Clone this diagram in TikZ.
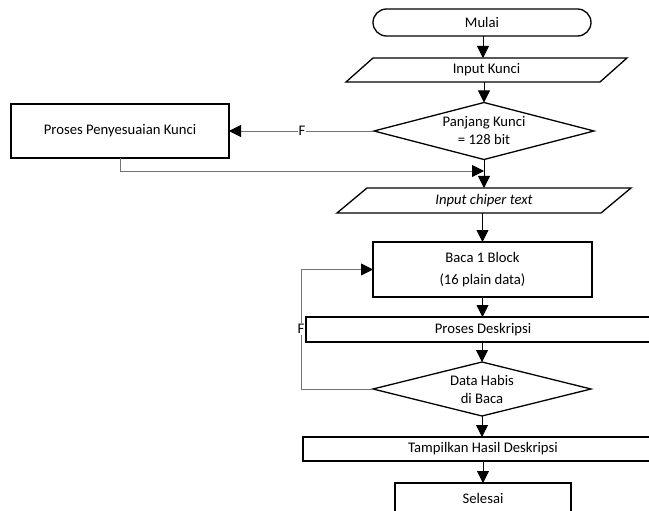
\documentclass[tikz,border=0pt]{standalone}
\usepackage{fontspec}
\setmainfont{Carlito}
\usetikzlibrary{shapes.geometric,arrows.meta,calc}
\begin{document}
\begin{tikzpicture}[x=1pt,y=-1pt,
  every node/.style={font=\fontsize{14.67}{18}\selectfont, inner sep=0pt, outer sep=0pt},
  shp/.style={draw=black, line width=1.3pt, fill=white, align=center},
  boxw/.style 2 args={shp, rectangle, minimum width=#1, minimum height=#2},
  txt/.style={align=center},
  dia/.style 2 args={shp, diamond, minimum width=#1, minimum height=#2},
  arr/.style={draw=black, line width=0.8pt, -{Triangle[length=12pt,width=12pt]}},
  garr/.style={draw=black!55, line width=0.8pt, -{Triangle[length=12pt,width=12pt,black]}},
  flab/.style={fill=white, inner sep=1pt}
]
\useasboundingbox (0,0) rectangle (649,511);
\clip (0,0) rectangle (649,511);

% shapes
\node[shp, rectangle, rounded corners=13.5pt, minimum width=218, minimum height=27] (m) at (482,22.5) {Mulai};

\node[minimum width=254, minimum height=24] (k) at (486.5,70) {};
\draw[shp] ($(k.south west)+(-13.5,0)$) -- ($(k.north west)+(13.5,0)$) -- ($(k.north east)+(13.5,0)$) -- ($(k.south east)+(-13.5,0)$) -- cycle;
\node[txt] (kt) at (k) {Input Kunci};

\node[dia={220}{57}] (d1) at (484,131) {};
\node[txt] (d1t) at (d1) {Panjang Kunci\\= 128 bit};

\node[boxw={218}{54}] (pk) at (120,131) {Proses Penyesuaian Kunci};

\node[minimum width=264, minimum height=25] (ci) at (484,200.5) {};
\draw[shp] ($(ci.south west)+(-15,0)$) -- ($(ci.north west)+(15,0)$) -- ($(ci.north east)+(15,0)$) -- ($(ci.south east)+(-15,0)$) -- cycle;
\node[txt] (cit) at (ci) {\itshape Input chiper text};

\node[boxw={219}{55}, font=\fontsize{14.67}{22}\selectfont] (bc) at (482.5,269.5) {Baca 1 Block\\(16 plain data)};
\node[boxw={354}{25}] (pd) at (483,329.5) {Proses Deskripsi};

\node[dia={218}{54}] (d2) at (482,389) {};
\node[txt] (d2t) at (d2) {Data Habis\\di Baca};

\node[boxw={360}{24}] (th) at (483,449) {Tampilkan Hasil Deskripsi};
\node[boxw={176}{30}] (s) at (483,498) {Selesai};

% connectors
\draw[arr] (m.south -| 483,0) -- (k.north -| 483,0);
\draw[arr] (k.south -| d1.north) -- (d1.north);
\draw[garr] (d1.west) -- (pk.east);
\coordinate (mg) at (484,171);
\draw[garr] (pk.south) |- (mg);
\draw[arr] (d1.south) -- (d1.south |- ci.north);
\draw[arr] (ci.south -| bc.north) -- (bc.north);
\draw[arr] (bc.south) -- (bc.south |- pd.north);
\draw[arr] (pd.south -| d2.north) -- (d2.north);
\coordinate (lp) at (301,389);
\draw[garr] (d2.west) -- (lp) |- (bc.west);
\draw[arr] (d2.south) -- (d2.south |- th.north);
\draw[arr] (th.south -| s.north) -- (s.north);

% labels
\node[flab] (f1) at (302,131) {F};
\node[flab] (f2) at (301,329) {F};
\end{tikzpicture}
\end{document}
